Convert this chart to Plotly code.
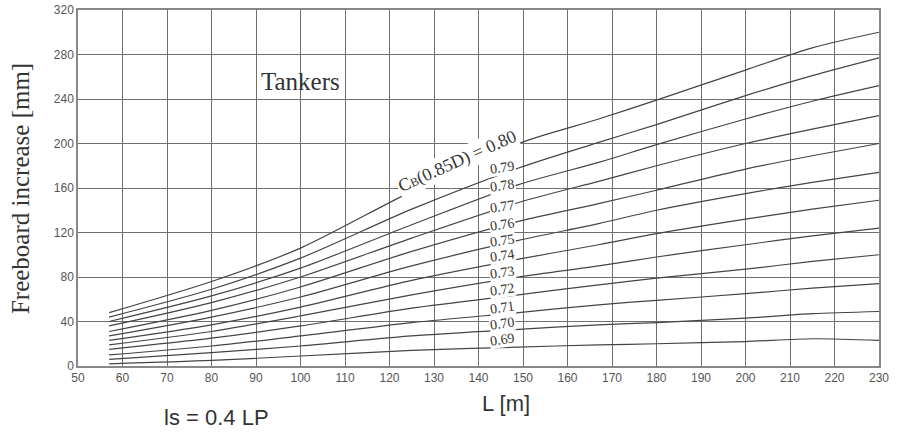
import plotly.graph_objects as go

# ship length L [m] at which values were read
L_m = [57, 80, 100, 125, 149, 167, 180, 200, 215, 230]

# block coefficient curves (freeboard increase in mm)
cb_values = ["0.80", "0.79", "0.78", "0.77", "0.76", "0.75",
             "0.74", "0.73", "0.72", "0.71", "0.70", "0.69"]
cb080 = [48, 76, 106, 157, 200, 222, 239, 266, 286, 300]
cb079 = [44, 69, 97, 141, 178, 201, 217, 243, 261, 277]
cb078 = [40, 63, 88, 127, 163, 183, 199, 222, 238, 252]
cb077 = [36, 57, 80, 115, 147, 166, 180, 200, 213, 225]
cb076 = [31, 50, 71, 103, 130, 146, 158, 177, 189, 200]
cb075 = [27, 44, 62, 90, 113, 128, 140, 155, 165, 174]
cb074 = [23, 37, 53, 77, 96, 109, 119, 132, 141, 149]
cb073 = [19, 31, 45, 64, 80, 90, 98, 109, 117, 124]
cb072 = [15, 25, 36, 52, 64, 73, 79, 87, 94, 100]
cb071 = [10, 18, 27, 39, 48, 55, 59, 65, 70, 74]
cb070 = [6, 12, 18, 27, 33, 37, 39, 43, 47, 49]
cb069 = [2, 5, 9, 14, 17, 19, 20, 22, 24.5, 23]
series = [cb080, cb079, cb078, cb077, cb076, cb075,
          cb074, cb073, cb072, cb071, cb070, cb069]

x_ticks = list(range(50, 231, 10))
y_ticks = list(range(0, 321, 40))

fig = go.Figure()
for name, ys in zip(cb_values, series):
    fig.add_trace(go.Scatter(x=L_m, y=ys, mode="lines", name=name,
                             line=dict(color="#444", width=1.2, shape="spline", smoothing=0.8),
                             showlegend=False, hoverinfo="x+y+name"))

serif = "Liberation Serif, Times New Roman, serif"
sans = "Liberation Sans, Arial, sans-serif"
tick_font = dict(family=sans, size=12, color="#555")

# inline curve labels (x position and y of each label)
label_x = 145.3
label_y = [178, 162, 143, 127, 113, 99.5, 84, 69, 52.5, 38, 24]
for txt, yy in zip(cb_values[1:], label_y):
    fig.add_annotation(x=label_x, y=yy, text=txt, showarrow=False,
                       font=dict(family=serif, size=14, color="#333"),
                       bgcolor="white", borderpad=0, textangle=-8)

fig.add_annotation(x=135.2, y=183.5, text="C<span style='font-size:12px'>B</span>(0.85D) = 0.80",
                   showarrow=False, textangle=-24,
                   font=dict(family=serif, size=18, color="#333"),
                   bgcolor="white", borderpad=1)

fig.add_annotation(x=100, y=256, text="Tankers", showarrow=False,
                   font=dict(family=serif, size=25, color="#333"))

# axis titles and note (paper coordinates)
fig.add_annotation(xref="paper", yref="paper", x=-0.0724, y=0.497, text="Freeboard increase [mm]",
                   textangle=-90, showarrow=False, xanchor="center", yanchor="middle",
                   font=dict(family=serif, size=25, color="#333"))
fig.add_annotation(xref="paper", yref="paper", x=0.534, y=-0.104, text="L [m]",
                   showarrow=False, xanchor="center", yanchor="middle",
                   font=dict(family=sans, size=22, color="#333"))
fig.add_annotation(xref="paper", yref="paper", x=0.1735, y=-0.146, text="ls = 0.4 LP",
                   showarrow=False, xanchor="center", yanchor="middle",
                   font=dict(family=sans, size=22, color="#333"))

fig.update_xaxes(range=[50, 230], tickvals=x_ticks, showgrid=True, gridcolor="#707070", gridwidth=1.4,
                 showline=True, linecolor="#888", linewidth=1.5, mirror=True, zeroline=False,
                 tickfont=tick_font, ticks="", automargin=False)
fig.update_yaxes(range=[0, 320], tickvals=y_ticks, showgrid=True, gridcolor="#707070", gridwidth=1.4,
                 showline=True, linecolor="#888", linewidth=1.5, mirror=True, zeroline=False,
                 tickfont=tick_font, ticks="", automargin=False)

fig.update_layout(width=898, height=432, margin=dict(l=78, r=19, t=10, b=66),
                  plot_bgcolor="white", paper_bgcolor="white")

# remove the default page margin so the figure fills the window exactly
fig.write_html("out.html", config={"displayModeBar": False},
               post_script="document.body.style.margin='0';")
